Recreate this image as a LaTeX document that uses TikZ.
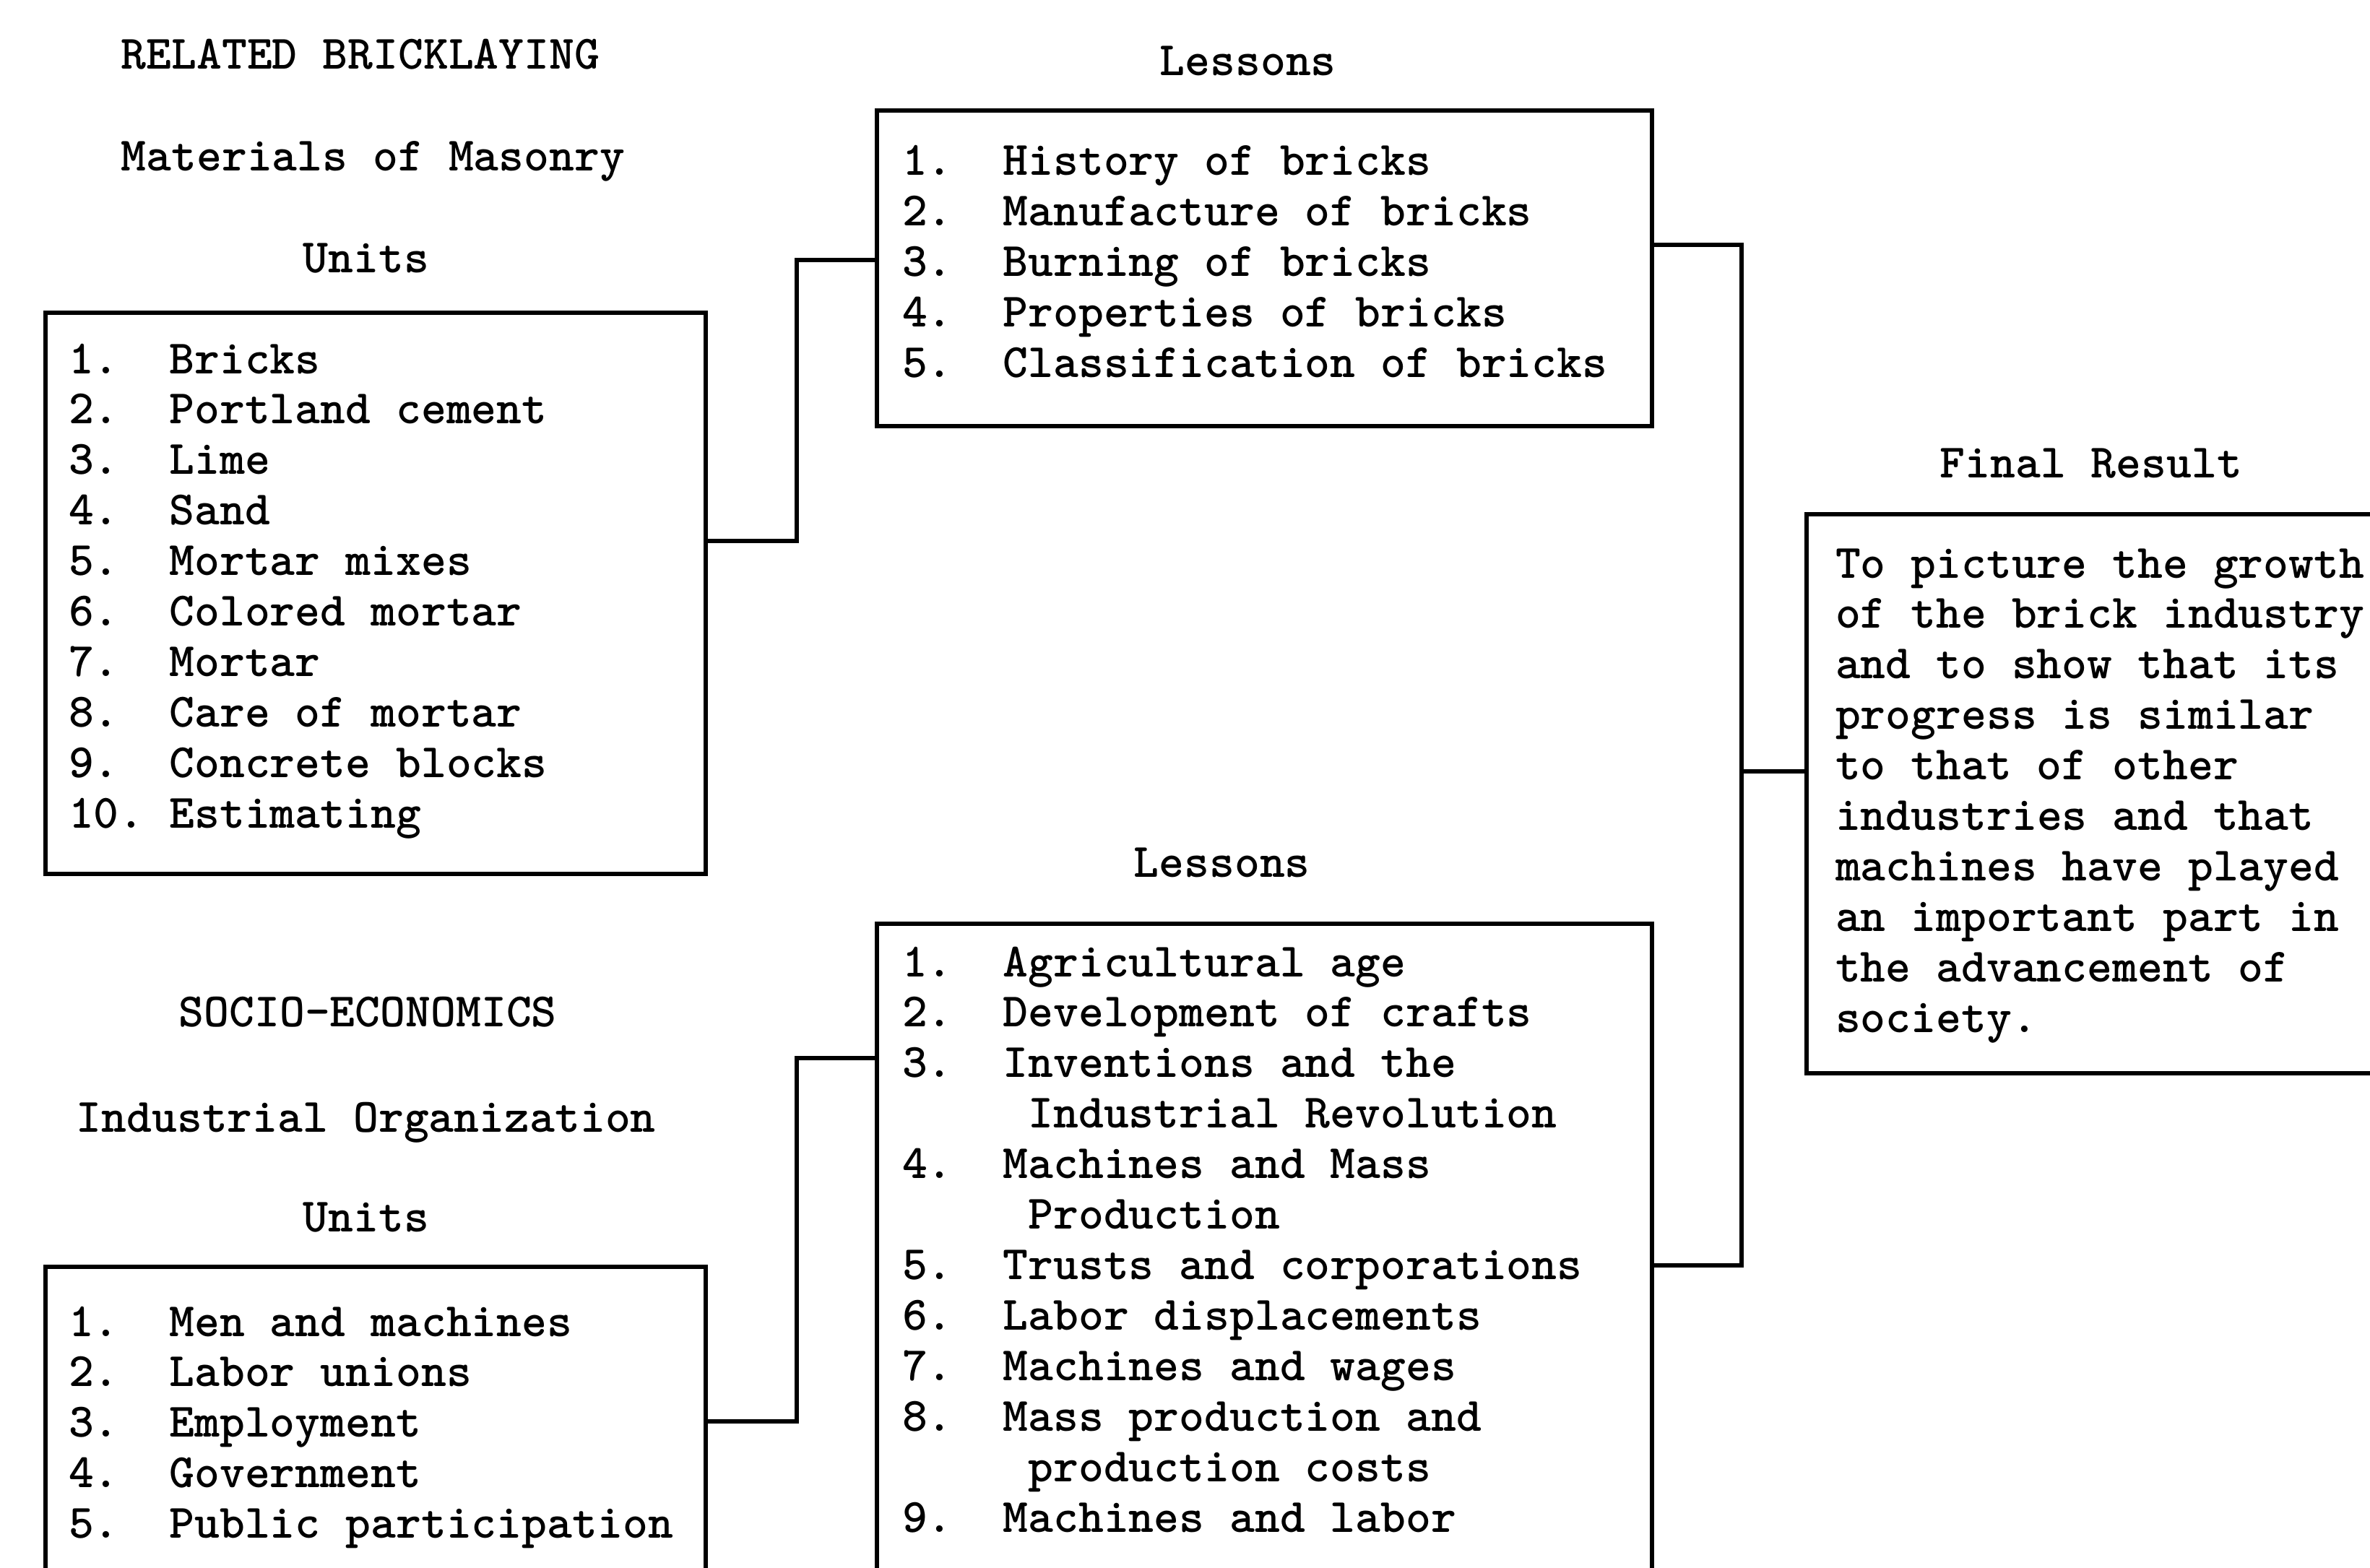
\documentclass[tikz,border=0pt]{standalone}
\usepackage{tikz}
\newcommand{\typeface}{\fontsize{18.9pt}{19.9pt}\selectfont\ttfamily\bfseries}
\newcommand{\evenspace}{\spaceskip=0.525em\relax\xspaceskip=0.525em\relax}
\newcommand{\itm}[2]{\makebox[2.1em][l]{#1}#2}
\newcommand{\cont}{\hspace*{2.625em}}
\tikzstyle{heading} = [anchor=base west, inner sep=0pt, font=\typeface]
\tikzstyle{listbox} = [draw, line width=1.5pt, anchor=north west, outer sep=0pt, inner ysep=0pt, align=left, font=\typeface]
\tikzstyle{link} = [line width=1.5pt]

\begin{document}
\begin{tikzpicture}
    \clip[use as bounding box] (0,0) rectangle (32.81,-21.71);

    % Headings
    \node[heading] (bricklaying) at (1.67,-0.96) {RELATED BRICKLAYING};
    \node[heading] (masonry) at (1.67,-2.37) {Materials of Masonry};
    \node[heading] (unitshead1) at (4.19,-3.77) {Units};
    \node[heading] (socio) at (2.47,-14.21) {SOCIO-ECONOMICS};
    \node[heading] (industrial) at (1.05,-15.67) {Industrial Organization};
    \node[heading] (unitshead2) at (4.19,-17.05) {Units};
    \node[heading] (lessonshead1) at (16.05,-1.05) {Lessons};
    \node[heading] (lessonshead2) at (15.69,-12.14) {Lessons};
    \node[heading] (resulthead) at (26.85,-6.61) {Final Result};

    % Boxes
    \node[listbox, inner xsep=0.32cm, text width=8.5cm, text height=0.84cm, text depth=6.93cm] (units1) at (0.63,-4.33)
        {\evenspace\itm{1.}{Bricks}\\ \itm{2.}{Portland cement}\\ \itm{3.}{Lime}\\ \itm{4.}{Sand}\\ \itm{5.}{Mortar mixes}\\
         \itm{6.}{Colored mortar}\\ \itm{7.}{Mortar}\\ \itm{8.}{Care of mortar}\\ \itm{9.}{Concrete blocks}\\ \itm{10.}{Estimating}};
    \node[listbox, inner xsep=0.35cm, text width=10.03cm, text height=0.90cm, text depth=3.47cm] (lessons1) at (12.14,-1.53)
        {\evenspace\itm{1.}{History of bricks}\\ \itm{2.}{Manufacture of bricks}\\ \itm{3.}{Burning of bricks}\\
         \itm{4.}{Properties of bricks}\\ \itm{5.}{Classification of bricks}};
    \node[listbox, inner xsep=0.40cm, text width=8cm, text height=0.88cm, text depth=6.86cm] (result) at (25.01,-7.12)
        {\evenspace To picture the growth\\ of the brick industry\\ and to show that its\\ progress is similar\\ to that of other\\
         industries and that\\ machines have played\\ an important part in\\ the advancement of\\ society.};
    \node[listbox, inner xsep=0.32cm, text width=8.5cm, text height=0.96cm, text depth=4cm] (units2) at (0.63,-17.54)
        {\evenspace\itm{1.}{Men and machines}\\ \itm{2.}{Labor unions}\\ \itm{3.}{Employment}\\ \itm{4.}{Government}\\
         \itm{5.}{Public participation}};
    \node[listbox, inner xsep=0.35cm, text width=10.03cm, text height=0.73cm, text depth=9cm] (lessons2) at (12.14,-12.79)
        {\evenspace\itm{1.}{Agricultural age}\\ \itm{2.}{Development of crafts}\\ \itm{3.}{Inventions and the}\\ \cont Industrial Revolution\\
         \itm{4.}{Machines and Mass}\\ \cont Production\\ \itm{5.}{Trusts and corporations}\\ \itm{6.}{Labor displacements}\\
         \itm{7.}{Machines and wages}\\ \itm{8.}{Mass production and}\\ \cont production costs\\ \itm{9.}{Machines and labor}};

    % Connectors
    \draw[link] ([yshift=-3.16cm]units1.north east) -- ++(1.26,0) |- ([yshift=-2.07cm]lessons1.north west);
    \draw[link] ([yshift=-2.14cm]units2.north east) -- ++(1.26,0) |- ([yshift=-1.86cm]lessons2.north west);
    \draw[link] ([yshift=-1.86cm]lessons1.north east) -- ++(1.24,0) coordinate (trunk) |- ([yshift=-4.73cm]lessons2.north east);
    \coordinate (resultin) at ([yshift=-3.56cm]result.north west);
    \draw[link] (resultin) -- (resultin -| trunk);
\end{tikzpicture}
\end{document}
